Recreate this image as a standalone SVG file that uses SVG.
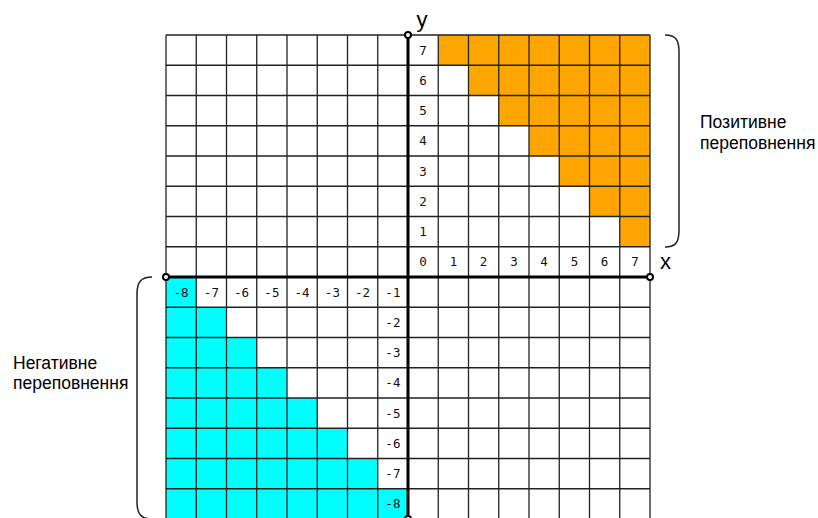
<svg xmlns="http://www.w3.org/2000/svg" width="818" height="518" viewBox="0 0 818 518">
<style>
.bg{fill:#fff}
.pos{fill:#FFA500}
.neg{fill:#00FFFF}
.grid{fill:none;stroke:#222;stroke-width:1.3}
.axis{fill:none;stroke:#000;stroke-width:3}
.dot{fill:#fff;stroke:#000;stroke-width:2}
.num{font-family:"DejaVu Sans Mono","Liberation Mono",monospace;font-size:12.5px;fill:#111;text-anchor:middle}
.axl{font-family:"Liberation Sans",Arial,sans-serif;font-size:22px;fill:#000}
.cap{font-family:"Liberation Sans",Arial,sans-serif;font-size:17.5px;fill:#000}
.brace{fill:none;stroke:#222;stroke-width:1.5}
</style>
<rect class="bg" x="0" y="0" width="818" height="518"/>
<g id="overflow-positive-cells">
<rect class="pos" x="438.25" y="35" width="211.75" height="30.25"/>
<rect class="pos" x="468.5" y="65.25" width="181.5" height="30.25"/>
<rect class="pos" x="498.75" y="95.5" width="151.25" height="30.25"/>
<rect class="pos" x="529" y="125.75" width="121" height="30.25"/>
<rect class="pos" x="559.25" y="156" width="90.75" height="30.25"/>
<rect class="pos" x="589.5" y="186.25" width="60.5" height="30.25"/>
<rect class="pos" x="619.75" y="216.5" width="30.25" height="30.25"/>
</g>
<g id="overflow-negative-cells">
<rect class="neg" x="166" y="277" width="30.25" height="30.25"/>
<rect class="neg" x="166" y="307.25" width="60.5" height="30.25"/>
<rect class="neg" x="166" y="337.5" width="90.75" height="30.25"/>
<rect class="neg" x="166" y="367.75" width="121" height="30.25"/>
<rect class="neg" x="166" y="398" width="151.25" height="30.25"/>
<rect class="neg" x="166" y="428.25" width="181.5" height="30.25"/>
<rect class="neg" x="166" y="458.5" width="211.75" height="30.25"/>
<rect class="neg" x="166" y="488.75" width="242" height="30.25"/>
</g>
<g id="grid">
<path class="grid" d="M166,35V519M196.25,35V519M226.5,35V519M256.75,35V519M287,35V519M317.25,35V519M347.5,35V519M377.75,35V519M438.25,35V519M468.5,35V519M498.75,35V519M529,35V519M559.25,35V519M589.5,35V519M619.75,35V519M650,35V519
M166,35H650M166,65.25H650M166,95.5H650M166,125.75H650M166,156H650M166,186.25H650M166,216.5H650M166,246.75H650M166,307.25H650M166,337.5H650M166,367.75H650M166,398H650M166,428.25H650M166,458.5H650M166,488.75H650"/>
</g>
<g id="axes">
<path class="axis" d="M408,35V519M166,277H650"/>
<circle class="dot" cx="408" cy="35" r="3"/>
<circle class="dot" cx="408" cy="519" r="3"/>
<circle class="dot" cx="166" cy="277" r="3"/>
<circle class="dot" cx="650" cy="277" r="3"/>
<text class="axl" x="416.5" y="26.5">y</text>
<text class="axl" x="660" y="269">x</text>
</g>
<g id="y-labels-positive">
<text class="num" x="423.1" y="54.6">7</text>
<text class="num" x="423.1" y="84.9">6</text>
<text class="num" x="423.1" y="115.1">5</text>
<text class="num" x="423.1" y="145.4">4</text>
<text class="num" x="423.1" y="175.6">3</text>
<text class="num" x="423.1" y="205.9">2</text>
<text class="num" x="423.1" y="236.1">1</text>
<text class="num" x="423.1" y="266.4">0</text>
</g>
<g id="x-labels-positive">
<text class="num" x="453.4" y="266.4">1</text>
<text class="num" x="483.6" y="266.4">2</text>
<text class="num" x="513.9" y="266.4">3</text>
<text class="num" x="544.1" y="266.4">4</text>
<text class="num" x="574.4" y="266.4">5</text>
<text class="num" x="604.6" y="266.4">6</text>
<text class="num" x="634.9" y="266.4">7</text>
</g>
<g id="x-labels-negative">
<text class="num" x="181.1" y="296.6">-8</text>
<text class="num" x="211.4" y="296.6">-7</text>
<text class="num" x="241.6" y="296.6">-6</text>
<text class="num" x="271.9" y="296.6">-5</text>
<text class="num" x="302.1" y="296.6">-4</text>
<text class="num" x="332.4" y="296.6">-3</text>
<text class="num" x="362.6" y="296.6">-2</text>
<text class="num" x="392.9" y="296.6">-1</text>
</g>
<g id="y-labels-negative">
<text class="num" x="392.9" y="326.9">-2</text>
<text class="num" x="392.9" y="357.1">-3</text>
<text class="num" x="392.9" y="387.4">-4</text>
<text class="num" x="392.9" y="417.6">-5</text>
<text class="num" x="392.9" y="447.9">-6</text>
<text class="num" x="392.9" y="478.1">-7</text>
<text class="num" x="392.9" y="508.4">-8</text>
</g>
<g id="positive-overflow">
<path class="brace" d="M665,35C676,35 679,40 679,52V230C679,242 676,247 665,247"/>
<text class="cap" x="700" y="128.3">Позитивне</text>
<text class="cap" x="700" y="149">переповнення</text>
</g>
<g id="negative-overflow">
<path class="brace" d="M152,277C141,277 137,282 137,294V502C137,514 141,519 152,519"/>
<text class="cap" x="13" y="368.6">Негативне</text>
<text class="cap" x="13" y="389.3">переповнення</text>
</g>
</svg>
